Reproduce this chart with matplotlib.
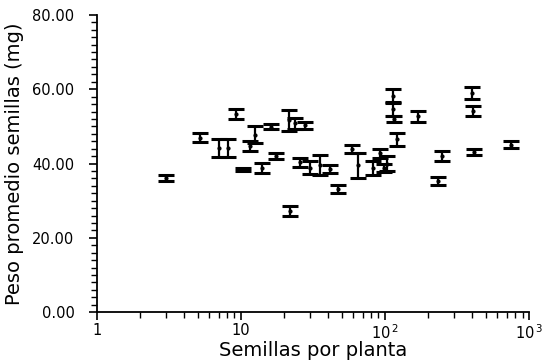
import numpy as np
import matplotlib
matplotlib.use("Agg")
import matplotlib.pyplot as plt
from matplotlib.ticker import MultipleLocator, LogLocator, FixedLocator, FixedFormatter

# seeds per plant (x), mean seed weight in mg (y), and half-width of error bar
semillas = [3.0, 5.2, 7.0, 8.2, 9.3, 10.4, 11.6, 12.5, 13.9, 16.3, 17.5, 21.5,
            22.0, 23.7, 27.8, 25.7, 30.2, 35.3, 41.5, 47.4, 58.7, 65.3, 83, 92,
            98, 103, 114, 114, 116, 122, 170, 234, 248, 400, 410, 415, 746]
peso = [36.1, 47.0, 44.2, 44.2, 53.3, 38.4, 44.7, 47.8, 38.8, 49.9, 42.0, 51.6,
        27.3, 50.8, 50.3, 40.4, 38.9, 39.7, 38.6, 33.2, 44.0, 39.5, 38.8, 42.7,
        38.8, 40.0, 58.2, 54.6, 52.0, 46.5, 52.7, 35.4, 42.0, 58.9, 54.1, 43.0, 45.1]
error = [0.9, 1.3, 2.4, 2.4, 1.3, 0.5, 1.4, 2.2, 1.4, 0.7, 0.9, 2.9,
         1.4, 1.5, 1.0, 1.2, 1.8, 2.7, 1.1, 1.1, 1.1, 3.4, 1.8, 1.1,
         1.0, 2.0, 1.8, 1.9, 0.7, 1.8, 1.4, 1.1, 1.4, 1.6, 1.4, 0.8, 0.9]

x_ticks = [1, 10, 100, 1000]
x_tick_labels = ['1', '10', r'10$^{\,2}$', r'10$^{\,3}$']
y_ticks = [0, 20, 40, 60, 80]

plt.rcParams['font.family'] = ['DejaVu Sans']
plt.rcParams['mathtext.fontset'] = 'dejavusans'

fig = plt.figure(figsize=(5.5, 3.63), dpi=100)
ax = fig.add_axes([0.176, 0.140, 0.786, 0.819])

ax.errorbar(semillas, peso, yerr=error, fmt='.', color='black', markersize=4,
            elinewidth=1.6, capsize=5.5, capthick=2.2)

ax.set_xscale('log')
ax.set_xlim(1, 1000)
ax.set_ylim(0, 80)

ax.xaxis.set_major_locator(FixedLocator(x_ticks))
ax.xaxis.set_major_formatter(FixedFormatter(x_tick_labels))
ax.xaxis.set_minor_locator(LogLocator(base=10, subs=np.arange(2, 10)))
ax.xaxis.set_minor_formatter(plt.NullFormatter())
ax.yaxis.set_major_locator(FixedLocator(y_ticks))
ax.yaxis.set_minor_locator(MultipleLocator(2))
ax.set_yticklabels([f'{v:.2f}' for v in y_ticks])

for s in ['top', 'right']:
    ax.spines[s].set_visible(False)
ax.spines['left'].set_linewidth(1.3)
ax.spines['bottom'].set_linewidth(1.3)

ax.tick_params(axis='both', which='major', direction='out', length=6, width=1.2,
               labelsize=10.5, colors='black')
ax.tick_params(axis='both', which='minor', direction='out', length=4.5, width=1.0)
ax.tick_params(axis='y', which='major', pad=10)
ax.tick_params(axis='x', which='major', pad=2)

ax.set_xlabel('Semillas por planta', fontsize=14, labelpad=-1)
ax.set_ylabel('Peso promedio semillas (mg)', fontsize=14, labelpad=6)

fig.savefig('out.png', dpi=100)
